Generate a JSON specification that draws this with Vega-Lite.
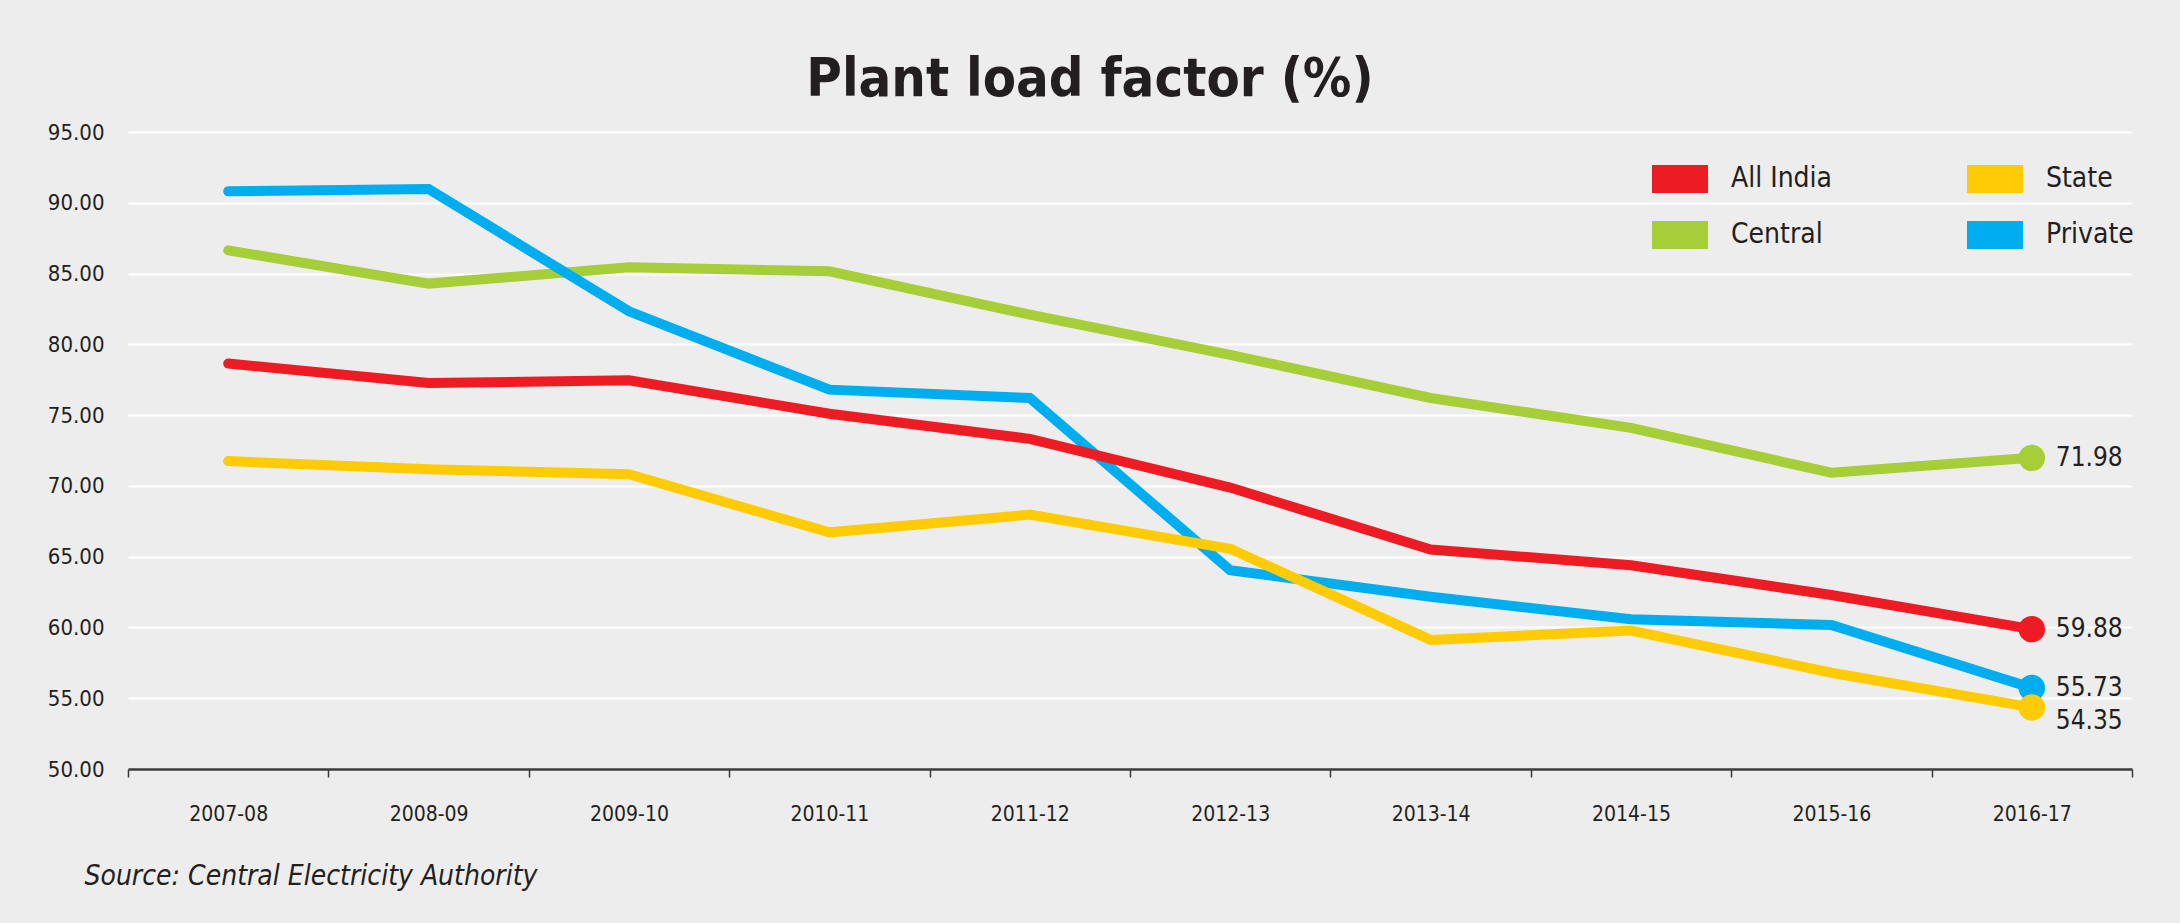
{
  "$schema": "https://vega.github.io/schema/vega-lite/v6.json",
  "width": 2004,
  "height": 637,
  "autosize": {"type": "none"},
  "padding": {"left": 128, "top": 132, "right": 48, "bottom": 154},
  "background": "#EEEDED",
  "title": {
    "text": "Plant load factor (%)",
    "font": "DejaVu Sans Condensed",
    "fontSize": 54,
    "fontWeight": "bold",
    "color": "#231F20",
    "anchor": "middle",
    "offset": 14,
    "dx": -40
  },
  "data": {
    "values": [
      {"year": "2007-08", "sector": "Central", "plf": 86.64},
      {"year": "2008-09", "sector": "Central", "plf": 84.29},
      {"year": "2009-10", "sector": "Central", "plf": 85.44},
      {"year": "2010-11", "sector": "Central", "plf": 85.16},
      {"year": "2011-12", "sector": "Central", "plf": 82.10},
      {"year": "2012-13", "sector": "Central", "plf": 79.26},
      {"year": "2013-14", "sector": "Central", "plf": 76.21},
      {"year": "2014-15", "sector": "Central", "plf": 74.10},
      {"year": "2015-16", "sector": "Central", "plf": 70.93},
      {"year": "2016-17", "sector": "Central", "plf": 71.98},
      {"year": "2007-08", "sector": "Private", "plf": 90.81},
      {"year": "2008-09", "sector": "Private", "plf": 90.97},
      {"year": "2009-10", "sector": "Private", "plf": 82.33},
      {"year": "2010-11", "sector": "Private", "plf": 76.80},
      {"year": "2011-12", "sector": "Private", "plf": 76.21},
      {"year": "2012-13", "sector": "Private", "plf": 64.04},
      {"year": "2013-14", "sector": "Private", "plf": 62.17},
      {"year": "2014-15", "sector": "Private", "plf": 60.58},
      {"year": "2015-16", "sector": "Private", "plf": 60.18},
      {"year": "2016-17", "sector": "Private", "plf": 55.73},
      {"year": "2007-08", "sector": "State", "plf": 71.75},
      {"year": "2008-09", "sector": "State", "plf": 71.17},
      {"year": "2009-10", "sector": "State", "plf": 70.82},
      {"year": "2010-11", "sector": "State", "plf": 66.72},
      {"year": "2011-12", "sector": "State", "plf": 67.97},
      {"year": "2012-13", "sector": "State", "plf": 65.56},
      {"year": "2013-14", "sector": "State", "plf": 59.12},
      {"year": "2014-15", "sector": "State", "plf": 59.78},
      {"year": "2015-16", "sector": "State", "plf": 56.80},
      {"year": "2016-17", "sector": "State", "plf": 54.35},
      {"year": "2007-08", "sector": "All India", "plf": 78.64},
      {"year": "2008-09", "sector": "All India", "plf": 77.27},
      {"year": "2009-10", "sector": "All India", "plf": 77.46},
      {"year": "2010-11", "sector": "All India", "plf": 75.10},
      {"year": "2011-12", "sector": "All India", "plf": 73.32},
      {"year": "2012-13", "sector": "All India", "plf": 69.88},
      {"year": "2013-14", "sector": "All India", "plf": 65.51},
      {"year": "2014-15", "sector": "All India", "plf": 64.39},
      {"year": "2015-16", "sector": "All India", "plf": 62.29},
      {"year": "2016-17", "sector": "All India", "plf": 59.88}
    ]
  },
  "encoding": {
    "x": {
      "field": "year",
      "type": "ordinal",
      "scale": {"type": "band", "paddingInner": 0, "paddingOuter": 0},
      "axis": {
        "title": "Source: Central Electricity Authority",
        "titleFontStyle": "italic",
        "titleFontWeight": "normal",
        "titleFontSize": 28,
        "titleColor": "#231F20",
        "titleAnchor": "start",
        "titleAlign": "left",
        "titleX": -44,
        "titlePadding": 38,
        "labelAngle": 0,
        "labelFontSize": 21,
        "labelColor": "#231F20",
        "labelPadding": 26,
        "tickBand": "extent",
        "tickSize": 8,
        "tickWidth": 1.5,
        "tickColor": "#3A3A3A",
        "domainColor": "#3A3A3A",
        "domainWidth": 2.5,
        "grid": false
      }
    },
    "y": {
      "field": "plf",
      "type": "quantitative",
      "scale": {"domain": [50, 95], "nice": false, "zero": false},
      "axis": {
        "title": null,
        "values": [50, 55, 60, 65, 70, 75, 80, 85, 90, 95],
        "format": ".2f",
        "labelFontSize": 22,
        "labelColor": "#231F20",
        "labelPadding": 24,
        "ticks": false,
        "domain": false,
        "grid": true,
        "gridColor": "#FFFFFF",
        "gridWidth": 2
      }
    },
    "color": {
      "field": "sector",
      "type": "nominal",
      "scale": {
        "domain": ["All India", "State", "Central", "Private"],
        "range": ["#ED1C24", "#FFCB05", "#A6CE39", "#00AEEF"]
      },
      "legend": {
        "orient": "none",
        "legendX": 1524,
        "legendY": 19,
        "direction": "horizontal",
        "columns": 2,
        "values": ["All India", "State", "Central", "Private"],
        "title": null,
        "symbolType": "M-1,-0.5H1V0.5H-1Z",
        "symbolSize": 3136,
        "symbolStrokeWidth": 0,
        "labelFontSize": 28,
        "labelColor": "#231F20",
        "labelOffset": 23,
        "columnPadding": 134,
        "rowPadding": 14,
        "encode": {
          "symbols": {"update": {"fill": {"scale": "color", "field": "value"}, "opacity": {"value": 1}}}
        }
      }
    }
  },
  "layer": [
    {"mark": {"type": "line", "strokeWidth": 10, "strokeCap": "round"}},
    {
      "transform": [{"filter": "datum.year == '2016-17'"}],
      "mark": {"type": "circle", "size": 700, "opacity": 1}
    },
    {
      "transform": [{"filter": "datum.year == '2016-17' && datum.sector != 'State'"}],
      "mark": {"type": "text", "align": "left", "baseline": "middle", "dx": 24, "fontSize": 26, "color": "#231F20"},
      "encoding": {"text": {"field": "plf", "format": ".2f"}, "color": {"value": "#231F20"}}
    },
    {
      "transform": [{"filter": "datum.year == '2016-17' && datum.sector == 'State'"}],
      "mark": {"type": "text", "align": "left", "baseline": "middle", "dx": 24, "dy": 14, "fontSize": 26, "color": "#231F20"},
      "encoding": {"text": {"field": "plf", "format": ".2f"}, "color": {"value": "#231F20"}}
    }
  ],
  "config": {
    "font": "DejaVu Sans Condensed",
    "view": {"stroke": null}
  }
}
